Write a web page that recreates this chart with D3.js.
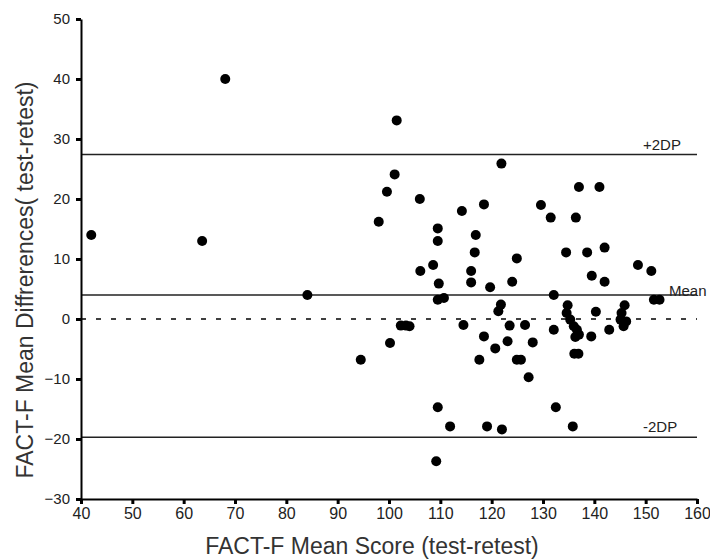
<!DOCTYPE html>
<html>
<head>
<meta charset="utf-8">
<title>FACT-F test-retest</title>
<script src="https://cdn.jsdelivr.net/npm/d3@7"></script>
<style>
body { margin: 0; background: #fff; }
svg { font-family: "Liberation Sans", Arial, sans-serif; }
.axis .domain { stroke: #000; stroke-width: 2px; }
.axis .tick line { stroke: #000; stroke-width: 3px; }
.axis text { fill: #222; }
</style>
</head>
<body>
<svg width="710" height="559"></svg>
<script>

// mean score of test and retest (x) and difference test-retest (y)
var meanScore = [42, 63.6, 68.1, 84.1, 94.5, 98.0, 99.6, 100.2, 101.1, 101.5,
  102.3, 103.3, 104.0, 106.0, 106.1, 108.6, 109.5, 109.5, 109.7, 109.5,
  110.7, 109.5, 109.2, 111.9, 114.2, 114.5, 116.0, 116.0, 116.7, 116.9,
  117.6, 118.5, 118.5, 119.1, 119.7, 120.7, 121.3, 121.8, 121.9, 122.0,
  123.1, 123.5, 124.0, 124.9, 124.9, 125.7, 126.5, 127.2, 128.0, 129.6,
  131.5, 132.1, 132.1, 132.5, 134.5, 134.8, 134.6, 135.3, 136.0, 136.6,
  137.0, 136.3, 135.8, 136.1, 136.9, 136.4, 137.0, 138.6, 139.5, 139.4,
  140.3, 141.0, 142.0, 142.0, 142.9, 145.9, 145.3, 145.1, 146.2, 145.7,
  148.5, 151.1, 151.6, 152.7];
var meanDiff = [14, 13, 40, 4, -6.8, 16.2, 21.2, -4, 24.1, 33.1,
  -1.1, -1.1, -1.2, 20, 8, 9, 15.1, 13, 5.9, 3.2,
  3.5, -14.7, -23.7, -17.9, 18, -1, 8, 6.1, 11.1, 14,
  -6.8, 19.1, -2.9, -17.9, 5.3, -4.9, 1.3, 2.4, 25.9, -18.4,
  -3.7, -1.1, 6.2, 10.1, -6.8, -6.8, -1, -9.7, -3.9, 19,
  16.9, 4, -1.8, -14.7, 11.1, 2.3, 1.0, -0.1, -1.2, -1.8,
  -2.6, -3.0, -17.9, -5.8, -5.8, 16.9, 22, 11.1, 7.2, -2.9,
  1.2, 22, 11.9, 6.2, -1.8, 2.3, 1.0, -0.1, -0.4, -1.2,
  9, 8, 3.2, 3.2];

var limitLabels = ["+2DP", "Mean", "-2DP"];
var limitValues = [27.4, 4.0, -19.7];

var xTicks = [40, 50, 60, 70, 80, 90, 100, 110, 120, 130, 140, 150, 160];
var yTicks = [-30, -20, -10, 0, 10, 20, 30, 40, 50];

var svg = d3.select("svg");
var plotLeft = 81, plotRight = 697, plotTop = 19, plotBottom = 499;

var x = d3.scaleLinear().domain([40, 160]).range([plotLeft, plotRight]);
var y = d3.scaleLinear().domain([-30, 50]).range([plotBottom, plotTop]);

var points = meanScore.map(function(v, i) { return {x: v, y: meanDiff[i]}; });

// zero line
svg.append("line")
  .attr("x1", plotLeft).attr("x2", plotRight)
  .attr("y1", y(0)).attr("y2", y(0))
  .attr("stroke", "#000").attr("stroke-width", 1.3)
  .attr("stroke-dasharray", "5,10");

// mean and limits of agreement
svg.selectAll(".limit")
  .data(limitValues)
  .enter().append("line")
    .attr("class", "limit")
    .attr("x1", plotLeft).attr("x2", plotRight)
    .attr("y1", function(d) { return y(d); })
    .attr("y2", function(d) { return y(d); })
    .attr("stroke", "#222").attr("stroke-width", 1.5);

svg.selectAll(".limit-label")
  .data(limitValues)
  .enter().append("text")
    .attr("class", "limit-label")
    .attr("x", function(d, i) { return i == 1 ? 669 : 643; })
    .attr("y", function(d, i) { return i == 1 ? y(d) + 1 : y(d) - 5; })
    .attr("font-size", 15)
    .attr("fill", "#222")
    .text(function(d, i) { return limitLabels[i]; });

svg.append("g")
  .attr("class", "axis")
  .attr("transform", "translate(0," + plotBottom + ")")
  .call(d3.axisBottom(x).tickValues(xTicks).tickSize(5).tickPadding(4).tickSizeOuter(0))
  .selectAll("text").attr("font-size", 16);

svg.append("g")
  .attr("class", "axis")
  .attr("transform", "translate(" + plotLeft + ",0)")
  .call(d3.axisLeft(y).tickValues(yTicks).tickSize(5).tickPadding(6).tickSizeOuter(0))
  .selectAll("text").attr("font-size", 15);

svg.selectAll(".axis text").attr("font-family", "Liberation Sans, Arial, sans-serif");

svg.append("g")
  .selectAll("circle")
  .data(points)
  .enter().append("circle")
    .attr("cx", function(d) { return x(d.x); })
    .attr("cy", function(d) { return y(d.y); })
    .attr("r", 5)
    .attr("fill", "#000");

svg.append("text")
  .attr("x", 372)
  .attr("y", 554)
  .attr("text-anchor", "middle")
  .attr("font-size", 23)
  .attr("fill", "#333")
  .text("FACT-F Mean Score (test-retest)");

svg.append("text")
  .attr("transform", "translate(33,280) rotate(-90)")
  .attr("text-anchor", "middle")
  .attr("font-size", 23)
  .attr("fill", "#333")
  .text("FACT-F Mean Diffrerences( test-retest)");

</script>
</body>
</html>
